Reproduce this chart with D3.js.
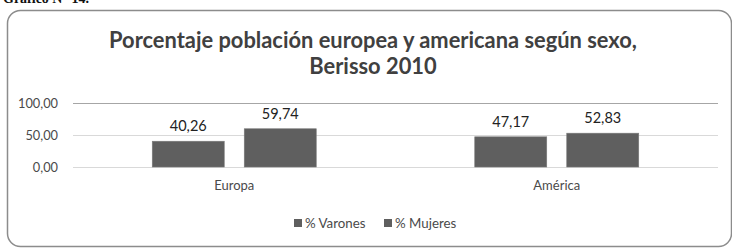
<!DOCTYPE html>
<html><head><meta charset="utf-8">
<script src="https://cdn.jsdelivr.net/npm/d3@7"></script>
<style>
html,body{margin:0;padding:0;background:#fff;}
svg{display:block;}
</style></head>
<body>
<svg id="chart" width="732" height="248"></svg>
<script>
const caption = "Gráfico N° 14.";
const titleLines = ["Porcentaje población europea y americana según sexo,", "Berisso 2010"];
const categories = ["Europa", "América"];
const seriesNames = ["% Varones", "% Mujeres"];
const varones = [40.26, 47.17];
const mujeres = [59.74, 52.83];
const yTicks = [0, 50, 100];

const svg = d3.select("#chart");
const font = "Lato, 'Open Sans', sans-serif";
const locale = d3.formatLocale({decimal: ",", thousands: ".", grouping: [3], currency: ["", ""]});
const fmt = locale.format(".2f");

// caption (cut at top, as in the source image)
svg.append("text").attr("x", 3).attr("y", 3)
  .attr("font-family", "'Liberation Serif', serif").attr("font-weight", "bold")
  .attr("font-size", 14).attr("fill", "#111").text(caption);

// frame
svg.append("rect").attr("x", 7.5).attr("y", 10.5).attr("width", 724).attr("height", 236)
  .attr("rx", 13).attr("fill", "#fff").attr("stroke", "#8c8c8c").attr("stroke-width", 1.5);

// title
const t1 = svg.append("text").attr("x", 373).attr("y", 48)
  .attr("text-anchor", "middle").attr("font-family", font).attr("font-weight", "bold")
  .attr("font-size", 20).attr("fill", "#404040").text(titleLines[0]);
const len = t1.node().getComputedTextLength();
const tSize = 20 * 528 / len;
t1.attr("font-size", tSize);
svg.append("text").attr("x", 373).attr("y", 74)
  .attr("text-anchor", "middle").attr("font-family", font).attr("font-weight", "bold")
  .attr("font-size", tSize).attr("fill", "#404040").text(titleLines[1]);

const x0 = d3.scaleBand().domain(categories).range([73, 718]).padding(0);
const groupFrac = 164 / 322.5;
const x1 = d3.scaleBand().domain(seriesNames)
  .range([x0.bandwidth() * (1 - groupFrac) / 2, x0.bandwidth() * (1 + groupFrac) / 2])
  .paddingInner(20 / 92).paddingOuter(0);
const y = d3.scaleLinear().domain([0, 100]).range([167, 103]);

// gridlines
svg.append("g").selectAll("line").data(yTicks).join("line")
  .attr("x1", 73).attr("x2", 718)
  .attr("y1", d => Math.round(y(d)) + 0.5).attr("y2", d => Math.round(y(d)) + 0.5)
  .attr("stroke", d => d === 100 ? "#a6a6a6" : "#d9d9d9").attr("stroke-width", 1.2);

// y axis labels
const yAxis = d3.axisLeft(y).tickValues(yTicks).tickFormat(fmt).tickSize(0).tickPadding(0);
const ya = svg.append("g").attr("transform", "translate(58,0)").call(yAxis);
ya.select(".domain").remove();
ya.selectAll("text").attr("font-family", font).attr("font-size", 12.8).attr("fill", "#4a4a4a");

// x axis labels
const xAxis = d3.axisBottom(x0).tickSize(0).tickPadding(0);
const xa = svg.append("g").attr("transform", "translate(0,181)").call(xAxis);
xa.select(".domain").remove();
xa.selectAll("text").attr("font-family", font).attr("font-size", 13).attr("fill", "#4a4a4a");

const series = [varones, mujeres];
const data = [];
categories.forEach((c, ci) => seriesNames.forEach((s, si) => data.push({c, s, v: series[si][ci]})));

svg.append("g").selectAll("rect").data(data).join("rect")
  .attr("x", d => x0(d.c) + x1(d.s)).attr("width", x1.bandwidth())
  .attr("y", d => y(d.v)).attr("height", d => y(0) - y(d.v))
  .attr("fill", "#5f5f5f").attr("stroke", "#7a7a7a").attr("stroke-width", 0.6);

svg.append("g").selectAll("text").data(data).join("text")
  .attr("x", d => x0(d.c) + x1(d.s) + x1.bandwidth() / 2)
  .attr("y", d => y(d.v) - 10)
  .attr("text-anchor", "middle").attr("font-family", font).attr("font-size", 14.5)
  .attr("fill", "#222").text(d => fmt(d.v));

// legend
const legX = [294, 384];
const lg = svg.append("g");
seriesNames.forEach((s, i) => {
  lg.append("rect").attr("x", legX[i]).attr("y", 219).attr("width", 8).attr("height", 8).attr("fill", "#5f5f5f");
  lg.append("text").attr("x", legX[i] + 11).attr("y", 228)
    .attr("font-family", font).attr("font-size", 13.3).attr("fill", "#4a4a4a").text(s);
});
</script>
</body></html>
